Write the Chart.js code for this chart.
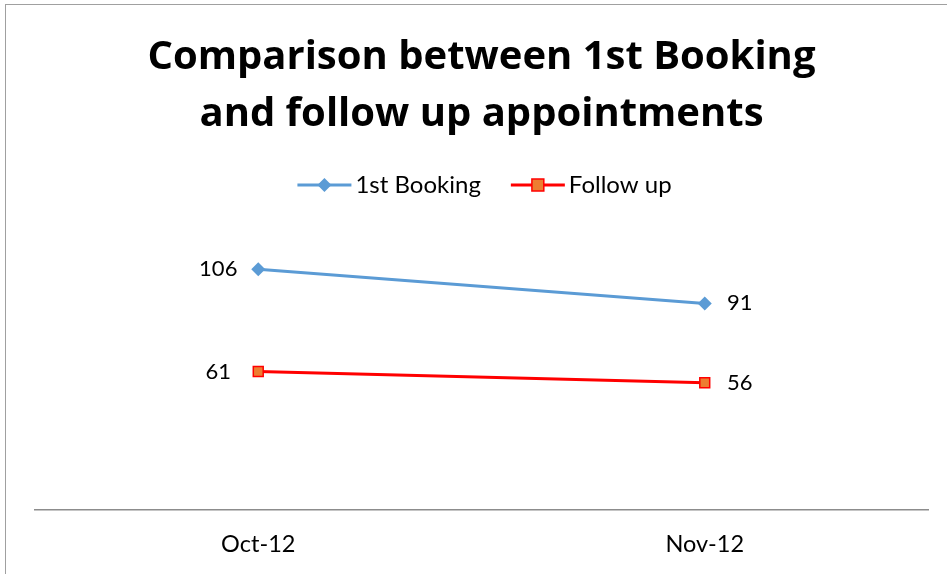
<!DOCTYPE html>
<html>
<head>
<meta charset="utf-8">
<script src="https://cdn.jsdelivr.net/npm/chart.js@4"></script>
<style>
  body{margin:0;background:#fff;}
  #wrap{position:relative;width:947px;height:574px;}
  #frame{position:absolute;left:5px;top:4px;right:-2px;bottom:-2px;border-left:1px solid #a0a0a0;border-top:1px solid #a0a0a0;pointer-events:none;}
</style>
</head>
<body>
<div id="wrap">
  <canvas id="chartCanvas" width="947" height="574"></canvas>
  <div id="frame"></div>
</div>
<script>
//data
const months=['Oct-12','Nov-12'];
const firstBooking=[106,91];
const followUp=[61,56];
const seriesNames=['1st Booking','Follow up'];
//which side the value label sits on, per point
const labelSide=['left','right'];

const FONT='Lato, "Open Sans", sans-serif';
const TITLE_FONT='"Open Sans", Lato, sans-serif';

//draws the legend (line + marker + text) and the value labels
const extrasPlugin={
  id:'extras',
  afterDatasetsDraw(chart){
    const ctx=chart.ctx;
    ctx.save();
    //value labels
    chart.data.datasets.forEach((ds,di)=>{
      const meta=chart.getDatasetMeta(di);
      meta.data.forEach((pt,i)=>{
        const side=labelSide[i];
        const x=side==='left'?pt.x-40:pt.x+35;
        ctx.font='22px '+FONT;
        ctx.fillStyle='#000';
        ctx.textAlign='center';
        ctx.textBaseline='middle';
        ctx.fillText(ds.data[i],x,pt.y);
      });
    });

    //legend
    const legendY=185;
    ctx.font='24px '+FONT;
    const items=chart.data.datasets.map(ds=>({ds:ds,w:54+4+ctx.measureText(ds.label).width}));
    const gap=30;
    let total=items.reduce((s,it)=>s+it.w,0)+gap*(items.length-1);
    const area=chart.chartArea;
    let x=(area.left+area.right)/2+3-total/2;
    items.forEach(it=>{
      const ds=it.ds;
      ctx.strokeStyle=ds.borderColor;
      ctx.lineWidth=3;
      ctx.beginPath();
      ctx.moveTo(x,legendY);
      ctx.lineTo(x+54,legendY);
      ctx.stroke();
      drawMarker(ctx,ds,x+27,legendY);
      ctx.fillStyle='#000';
      ctx.textAlign='left';
      ctx.textBaseline='middle';
      ctx.fillText(ds.label,x+58,legendY);
      x+=it.w+gap;
    });
    ctx.restore();
  }
};

function drawMarker(ctx,ds,cx,cy){
  const r=ds.pointRadius;
  ctx.fillStyle=ds.pointBackgroundColor;
  ctx.strokeStyle=ds.pointBorderColor;
  ctx.lineWidth=ds.pointBorderWidth;
  ctx.beginPath();
  if(ds.pointStyle==='rectRot'){
    ctx.moveTo(cx,cy-r);ctx.lineTo(cx+r,cy);ctx.lineTo(cx,cy+r);ctx.lineTo(cx-r,cy);
  }else{
    ctx.rect(cx-r*0.85,cy-r*0.85,r*1.7,r*1.7);
  }
  ctx.closePath();
  ctx.fill();
  if(ds.pointBorderWidth>0)ctx.stroke();
}

const config={
  type:'line',
  data:{
    labels:months,
    datasets:[
      {
        label:seriesNames[0],
        data:firstBooking,
        borderColor:'#5B9BD5',
        backgroundColor:'#5B9BD5',
        borderWidth:3,
        pointStyle:'rectRot',
        pointRadius:7,
        pointBackgroundColor:'#5B9BD5',
        pointBorderColor:'#5B9BD5',
        pointBorderWidth:0,
        tension:0
      },
      {
        label:seriesNames[1],
        data:followUp,
        borderColor:'#FF0000',
        backgroundColor:'#ED7D31',
        borderWidth:3,
        pointStyle:'rect',
        pointRadius:7,
        pointBackgroundColor:'#ED7D31',
        pointBorderColor:'#FF0000',
        pointBorderWidth:1.5,
        tension:0
      }
    ]
  },
  options:{
    responsive:false,
    animation:false,
    layout:{padding:{left:35,right:19,top:0,bottom:0}},
    plugins:{
      legend:{display:false},
      tooltip:{enabled:false},
      title:{
        display:true,
        text:['Comparison between 1st Booking','and follow up appointments'],
        color:'#000',
        font:{family:TITLE_FONT,size:40,weight:'bold',lineHeight:1.42},
        padding:{top:29,bottom:95}
      }
    },
    scales:{
      x:{
        offset:true,
        grid:{display:false,tickLength:6},
        border:{display:true,color:'#8c8c8c',width:1.5},
        ticks:{color:'#000',font:{family:FONT,size:23.5},padding:15}
      },
      y:{
        display:false,
        min:0,
        max:120
      }
    }
  },
  plugins:[extrasPlugin]
};

var myChart=new Chart(document.getElementById('chartCanvas'),config);
</script>
</body>
</html>
